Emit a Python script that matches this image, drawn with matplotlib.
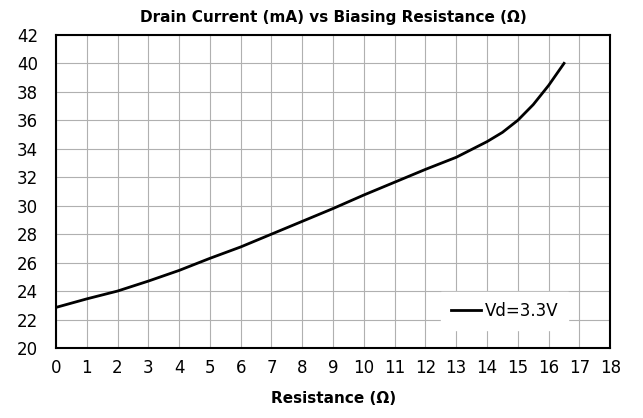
import matplotlib
matplotlib.use("Agg")
import matplotlib.pyplot as plt

# resistance (ohm) and drain current (mA)
resistencia = [0, 1, 2, 3, 4, 5, 6, 7, 8, 9, 10, 11, 12, 13, 14, 14.5, 15,
               15.5, 16, 16.5]
corrente = [22.85, 23.45, 24.0, 24.7, 25.45, 26.3, 27.1, 28.0, 28.9, 29.8,
            30.75, 31.65, 32.55, 33.4, 34.5, 35.15, 36.0, 37.1, 38.45, 40.0]
rotulo = "Vd=3.3V"

fig = plt.figure(figsize=(6.43, 4.18), dpi=100)
ax = fig.add_axes([0.087, 0.1675, 0.862, 0.749])

ax.plot(resistencia, corrente, color="black", linewidth=2, label=rotulo,
        solid_joinstyle="round")

ax.set_xlim(0, 18)
ax.set_ylim(20, 42)
ax.set_xticks(range(0, 19))
ax.set_yticks(range(20, 43, 2))
ax.grid(True, color="#b0b0b0", linewidth=0.8)
ax.tick_params(length=0, labelsize=12)
ax.tick_params(axis="y", pad=13)
ax.tick_params(axis="x", pad=8)
for s in ax.spines.values():
    s.set_linewidth(1.5)
    s.set_color("black")

ax.set_title("Drain Current (mA) vs Biasing Resistance (Ω)", fontsize=11,
             fontweight="bold", pad=9)
ax.set_xlabel("Resistance (Ω)", fontsize=11, fontweight="bold", labelpad=10)

leg = ax.legend(loc="center", bbox_to_anchor=(0.81, 0.118), frameon=True,
                fontsize=12, handlelength=1.8, handletextpad=0.2,
                borderpad=0.6, borderaxespad=0, fancybox=False)
leg.get_frame().set_edgecolor("white")
leg.get_frame().set_facecolor("white")
leg.get_frame().set_alpha(1)

fig.savefig("out.png", dpi=100)
